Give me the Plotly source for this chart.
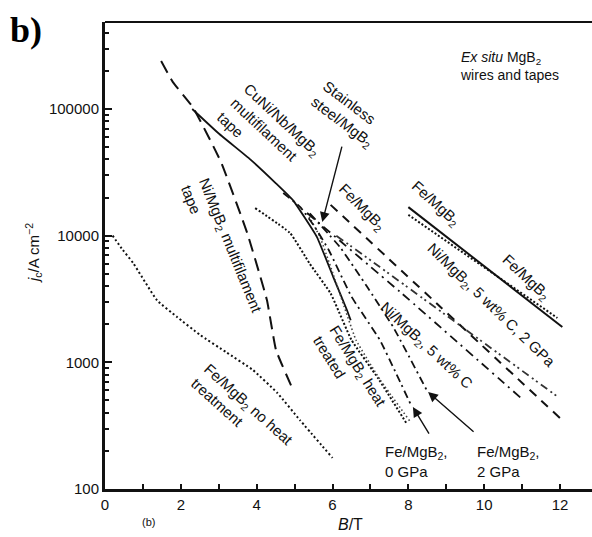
import math
import plotly.graph_objects as go

# ---------------- data ----------------
nohe_B = [0.2, 0.47, 0.74, 1.37, 1.9, 2.5, 3.2, 3.9, 4.54, 5.14, 6.0]
nohe_jc = [10000, 7700, 6100, 3090, 2280, 1650, 1200, 870, 575, 350, 176]

nimf_B = [1.48, 1.79, 2.32, 3.06, 3.75, 4.27, 4.51, 4.96]
nimf_jc = [239000, 163000, 103000, 38100, 10500, 3100, 1250, 605]

cuni_B = [2.3, 3.0, 3.83, 4.5, 4.96, 5.59, 6.02, 6.38, 6.48]
cuni_jc = [100000, 64000, 40000, 26000, 19000, 9750, 4710, 2590, 2150]

heat_B = [3.96, 4.88, 5.4, 5.95, 6.5, 7.2, 7.95]
heat_jc = [16500, 10500, 6000, 3500, 1500, 750, 330]

ss_B = [5.33, 5.67, 6.07, 6.62, 7.26, 8.05]
ss_jc = [15100, 9750, 4470, 1500, 725, 340]

p0_B = [4.7, 5.15, 5.55, 5.9, 6.5, 7.25, 7.65, 8.1]
p0_jc = [21700, 16800, 11500, 7700, 3300, 1500, 850, 440]

p2_B = [5.4, 6.2, 6.9, 7.6, 8.5]
p2_jc = [15000, 8100, 4000, 1900, 590]

fed_B = [5.95, 8.84, 12.0]
fed_jc = [17500, 2750, 363]

ni5_B = [5.33, 7.78, 11.03]
ni5_jc = [15100, 3600, 504]

ni52_B = [6.1, 7.25, 11.95]
ni52_jc = [10000, 5650, 532]

fes_B = [8.0, 12.06]
fes_jc = [16800, 1900]

fedot_B = [8.0, 11.93]
fedot_jc = [14600, 2240]

x_ticks = [0, 2, 4, 6, 8, 10, 12]
y_ticks = [100, 1000, 10000, 100000]
y_tick_text = ["100", "1000", "10000", "100000"]

# ---------------- figure ----------------
FONT = "Liberation Sans, Arial, sans-serif"
fig = go.Figure()


def add(x, y, dash, width=2.0, color="#111"):
    fig.add_trace(go.Scatter(x=x, y=y, mode="lines", showlegend=False,
                             line=dict(color=color, width=width, dash=dash,
                                       shape="spline", smoothing=0.35),
                             hoverinfo="skip"))


add(nohe_B, nohe_jc, "2px,2.5px", 2.0)
add(nimf_B, nimf_jc, "13px,7px", 2.0)
add(cuni_B, cuni_jc, "solid", 1.8)
add(heat_B, heat_jc, "2px,2px", 2.0)
add(ss_B, ss_jc, "1.5px,2.5px", 1.6, "#444")
add(p0_B, p0_jc, "8px,4px,2px,4px", 1.8)
add(p2_B, p2_jc, "8px,4px,2px,4px", 1.8)
add(fed_B, fed_jc, "9px,7px", 2.0)
add(ni5_B, ni5_jc, "9px,5px,2px,5px", 1.8)
add(ni52_B, ni52_jc, "8px,4px,2px,3px,2px,4px", 1.8, "#333")
add(fes_B, fes_jc, "solid", 2.0)
add(fedot_B, fedot_jc, "2px,2px", 2.0)

L, T, R, B_ = 105, 22, 592, 489
W, H = R - L, B_ - T


def P(px, py):
    return (px - L) / W, (B_ - py) / H


def label(text, px, py, angle=0, size=15, align="left", xanchor="center",
          yanchor="middle", font=FONT, color="#111"):
    x, y = P(px, py)
    fig.add_annotation(text=text, x=x, y=y, xref="paper", yref="paper",
                       textangle=angle, showarrow=False, align=align,
                       xanchor=xanchor, yanchor=yanchor,
                       font=dict(family=font, size=size, color=color))


M = "MgB<sub>2</sub>"
label("CuNi/Nb/" + M + "<br>multifilament<br>tape", 269, 134, 43)
label("Ni/" + M + " multifilament<br>tape", 222, 249, 68)
label("Stainless<br>steel/" + M, 347, 115, 37)
label("Fe/" + M, 362, 207, 45)
label("Fe/" + M, 435, 204, 42)
label("Fe/" + M, 526, 277, 43)
label("Ni/" + M + ", 5 wt% C, 2 GPa", 491, 305, 44)
label("Ni/" + M + ", 5 wt% C", 426, 345, 43)
label("Fe/" + M + " heat<br>treated", 350, 371, 58)
label("Fe/" + M + " no heat<br>treatment", 242, 411, 42)
label("Fe/" + M + ",<br>0 GPa", 383, 461, 0, xanchor="left")
label("Fe/" + M + ",<br>2 GPa", 475, 461, 0, xanchor="left")
label("<i>Ex situ</i> " + M + "<br>wires and tapes", 458, 66, 0, size=14,
      xanchor="left")
label("<b>b)</b>", 8, 30, 0, size=36, xanchor="left",
      font="Liberation Serif, Times New Roman, serif", color="#000")
label("(b)", 148, 522, 0, size=11)
label("<i>j</i><sub>c</sub>/A cm<sup>−2</sup>", 34, 253, -90, size=15)
label("<i>B</i>/T", 350, 524, 0, size=16)

# arrows (tip on the curve, tail offset in pixels)
for tipB, tipjc, ax, ay in [(5.73, 12800, 20, -77), (8.12, 443, 17, 28),
                            (8.52, 583, 47, 41)]:
    fig.add_annotation(x=tipB, y=math.log10(tipjc), xref="x", yref="y",
                       ax=ax, ay=ay, text="", showarrow=True, arrowhead=2,
                       arrowsize=1.4, arrowwidth=1.4, arrowcolor="#111",
                       standoff=0)

# top frame line
fig.add_shape(type="line", xref="paper", yref="paper", x0=0, x1=1, y0=1, y1=1,
              line=dict(color="#111", width=2))

fig.update_xaxes(range=[0, W / 37.92], tickvals=x_ticks, ticks="inside",
                 ticklen=5, tickwidth=2, tickcolor="#111",
                 minor=dict(dtick=1, ticks="inside", ticklen=5, tickwidth=2,
                            tickcolor="#111", showgrid=False),
                 showline=True, linewidth=3, linecolor="#111", showgrid=False,
                 zeroline=False, tickfont=dict(family=FONT, size=15, color="#111"))
fig.update_yaxes(type="log", range=[2, 2 + H / 126.67], tickvals=y_ticks,
                 ticktext=y_tick_text, ticks="inside", ticklen=7, tickwidth=2,
                 tickcolor="#111",
                 minor=dict(tickvals=[v * m for v in [100, 1000, 10000, 100000]
                                      for m in range(2, 10)],
                            ticks="inside", ticklen=4, tickwidth=1.5,
                            tickcolor="#111", showgrid=False),
                 showline=True, linewidth=3, linecolor="#111", showgrid=False,
                 zeroline=False, tickfont=dict(family=FONT, size=15, color="#111"))

fig.update_layout(width=592, height=537, margin=dict(l=L, r=0, t=T, b=537 - B_),
                  paper_bgcolor="white", plot_bgcolor="white")

fig.write_html("out.html", config={"displayModeBar": False},
               post_script="document.body.style.margin='0px';"
                           "document.body.style.overflow='hidden';")
